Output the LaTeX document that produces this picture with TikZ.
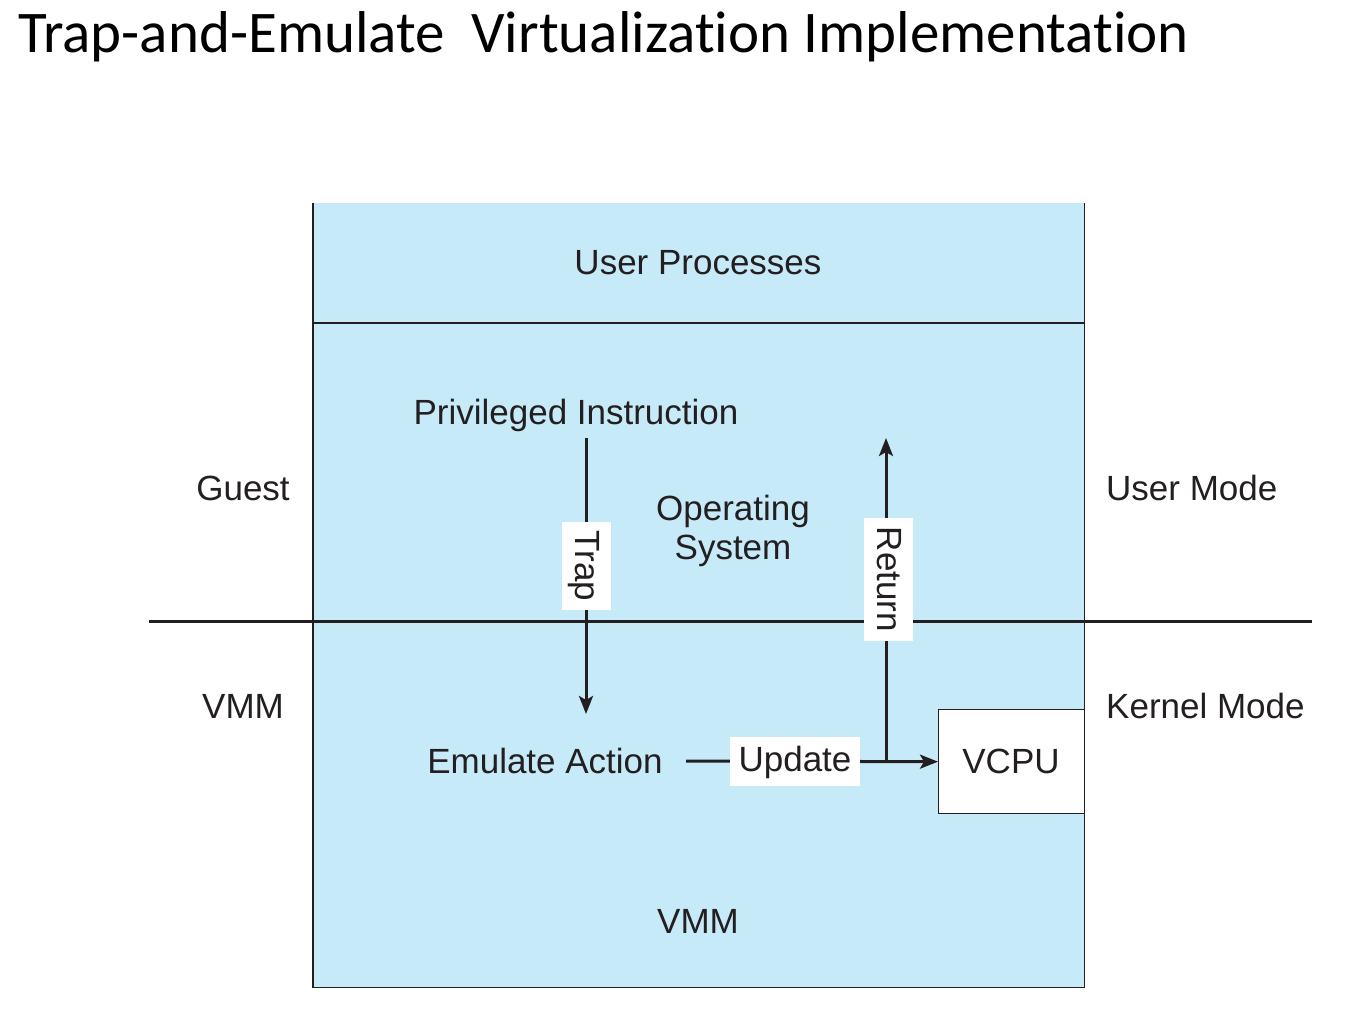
\documentclass[tikz,border=0pt]{standalone}
\usepackage{fontspec}
\setmainfont{Liberation Sans}
\newfontfamily\titlefont[Ligatures=NoCommon]{Carlito}
\usetikzlibrary{arrows.meta}
\definecolor{ink}{RGB}{35,31,32}
\definecolor{lightblue}{RGB}{199,234,249}
\tikzset{
  lbl/.style={font=\fontsize{35}{39}\selectfont, text=ink, anchor=base, inner sep=0pt},
  tag/.style={font=\fontsize{35}{39}\selectfont, text=ink, fill=white, inner xsep=9pt, inner ysep=8pt, text height=27pt, text depth=6pt},
  thick line/.style={draw=ink, line width=3pt},
  arr/.style={thick line, -{Stealth[length=18pt,width=14pt,inset=4pt]}},
  border/.style={draw=ink, line width=1.4pt},
}
\begin{document}
\begin{tikzpicture}[x=1pt,y=-1pt]
\useasboundingbox (0,0) rectangle (1347,1029);
% title
\node[anchor=base west, inner sep=0pt, font=\titlefont\fontsize{59}{65}\selectfont, text=black] (title) at (18,52) {Trap-and-Emulate\ \ Virtualization Implementation};
% main region
\node[fill=lightblue, draw=none, minimum width=771pt, minimum height=784pt, anchor=north west, inner sep=0pt] (box) at (313,203) {};
\draw[border] (box.north west) -- (box.south west) -- (box.south east) -- (box.north east);
\coordinate (divL) at (313,323);
\coordinate (divR) at (1084,323);
\draw[border] (divL) -- (divR);
% mode line
\coordinate (modeL) at (149,621);
\coordinate (modeR) at (1312,621);
\draw[thick line] (modeL) -- (modeR);
% VCPU box
\node[fill=white, border, minimum width=146pt, minimum height=104pt, anchor=north west, inner sep=0pt] (vcpubox) at (938,709) {};
\node[lbl] (vcpu) at (1011,773.5) {VCPU};
% texts
\node[lbl] (userproc) at (698,274.5) {User Processes};
\node[lbl] (priv) at (576,424.5) {Privileged Instruction};
\node[lbl] (os1) at (733,520) {Operating};
\node[lbl] (os2) at (733,559) {System};
\node[lbl] (emul) at (545,773.5) {Emulate Action};
\node[lbl] (vmmin) at (698,933.5) {VMM};
\node[lbl] (guest) at (243,500) {Guest};
\node[lbl] (vmmout) at (243,718.5) {VMM};
\node[lbl, anchor=base west] (usermode) at (1106,500) {User Mode};
\node[lbl, anchor=base west] (kernelmode) at (1106,718.5) {Kernel Mode};
% connectors
\coordinate (trapS) at (586,438);
\coordinate (trapE) at (586,714);
\draw[arr] (trapS) -- (trapE);
\node[tag, rotate=-90] (trap) at (586,566) {Trap};
\coordinate (updS) at (686,761);
\coordinate (junc) at (886,761);
\coordinate (retE) at (886,438);
\draw[arr] (updS) -- (vcpubox.west);
\draw[arr] (junc) -- (retE);
\node[tag] (update) at (795,761) {Update};
\node[tag, rotate=-90] (return) at (888,579.5) {Return};
\end{tikzpicture}
\end{document}
